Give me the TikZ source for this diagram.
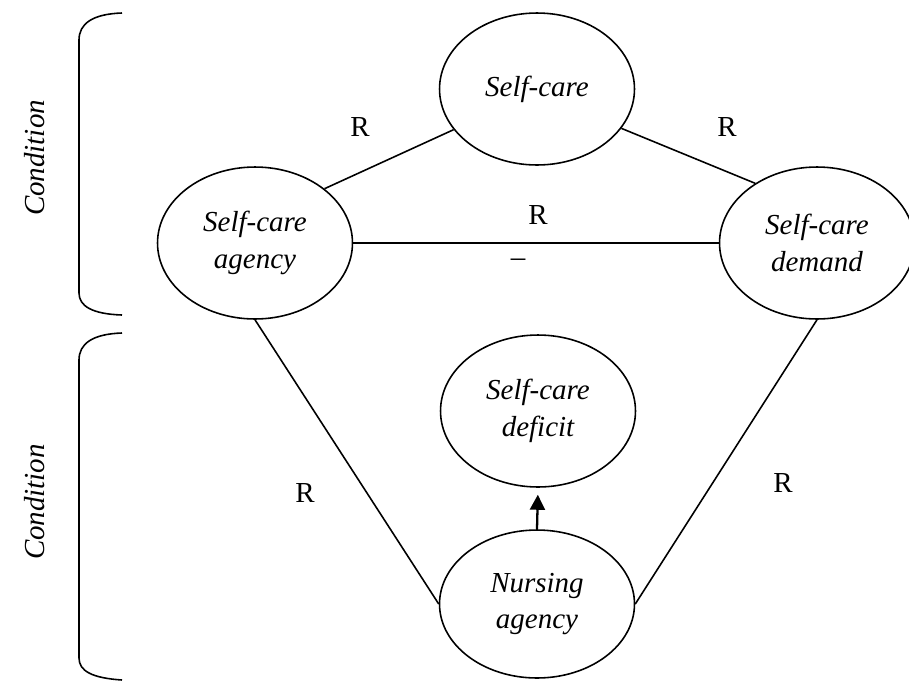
\documentclass[tikz,border=0pt]{standalone}
\usepackage{fontspec}
\setmainfont{Liberation Serif}
\usetikzlibrary{arrows.meta, shapes.geometric}

\begin{document}
\begin{tikzpicture}[
    x=0.02cm, y=-0.02cm,
    concept/.style={ellipse, draw=black, line width=0.9pt, minimum width=3.9cm, minimum height=3.04cm,
        inner sep=0pt, align=center, font=\fontsize{16.5}{21}\selectfont\itshape},
    link/.style={line width=0.9pt},
    arrow/.style={-{Triangle[length=0.3cm, width=0.3cm]}, line width=1.3pt, shorten >=0.14cm},
    rel/.style={font=\fontsize{16.5}{20}\selectfont},
    brace/.style={line width=0.9pt},
    side/.style={rotate=90, anchor=base, font=\fontsize{16.5}{20}\selectfont\itshape}
]
\useasboundingbox (0,0) rectangle (909,680);

% Concepts
\node[concept] (selfcare) at (537,89) {Self-care};
\node[concept] (agency) at (255,243) {Self-care\\agency};
\node[concept] (demand) at (817,243) {Self-care\\demand};
\node[concept] (deficit) at (538,411) {Self-care\\deficit};
\node[concept, minimum height=2.96cm] (nursing) at (537,604) {Nursing\\agency};

% Relations
\draw[link] (agency.38) -- (selfcare.206);
\draw[link] (selfcare.335) -- (demand.136);
\draw[link] (agency) -- (demand);
\draw[link] (agency.south) -- (nursing.west);
\draw[link] (demand.south) -- (nursing.east);
\draw[arrow] (nursing.north) -- (deficit.south);

% Labels
\node[rel] (rtopleft) at (360,127) {R};
\node[rel] (rtopright) at (727,127) {R};
\node[rel] (rmiddle) at (538,215) {R};
\node[rel] (minus) at (518,263) {\textendash};
\node[rel] (rbottomleft) at (305,493) {R};
\node[rel] (rbottomright) at (783,483) {R};

% Braces
\draw[brace] (122,13) .. controls (92,14) and (79,24) .. (79,40) -- (79,293)
    .. controls (79,306) and (92,314) .. (122,315);
\draw[brace] (122,333) .. controls (92,334) and (79,344) .. (79,360) -- (79,658)
    .. controls (79,671) and (92,678) .. (122,680);
\node[side] (condtop) at (44,158) {Condition};
\node[side] (condbottom) at (44,502) {Condition};

\end{tikzpicture}
\end{document}
